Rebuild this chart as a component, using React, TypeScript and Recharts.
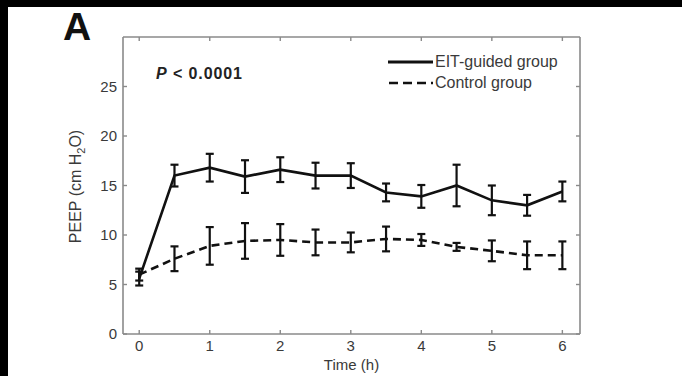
import React from 'react';
import { ComposedChart, Line, XAxis, YAxis, ErrorBar } from 'recharts';

const times = [0, 0.5, 1, 1.5, 2, 2.5, 3, 3.5, 4, 4.5, 5, 5.5, 6];
const eitMean = [5.6, 16.0, 16.8, 15.9, 16.6, 16.0, 16.0, 14.3, 13.9, 15.0, 13.5, 13.0, 14.4];
const eitErr = [0.7, 1.1, 1.4, 1.65, 1.25, 1.3, 1.25, 0.9, 1.15, 2.1, 1.5, 1.05, 1.0];
const ctrlMean = [6.0, 7.6, 8.9, 9.4, 9.5, 9.25, 9.25, 9.6, 9.5, 8.8, 8.4, 7.95, 7.95];
const ctrlErr = [0.6, 1.25, 1.9, 1.8, 1.6, 1.3, 1.0, 1.25, 0.6, 0.4, 1.05, 1.4, 1.4];
const xTicks = [0, 1, 2, 3, 4, 5, 6];
const yTicks = [0, 5, 10, 15, 20, 25];
const seriesNames = ['EIT-guided group', 'Control group'];

const eitData = times.map((t, i) => ({ t, v: eitMean[i], e: eitErr[i] }));
const ctrlData = times.map((t, i) => ({ t, v: ctrlMean[i], e: ctrlErr[i] }));

const FONT = "'Liberation Sans', Arial, sans-serif";
const AXIS = '#8a8a8a';
const TXT = '#3a3a3a';

const YLabel = (props: any) => {
  const vb = props.viewBox || { x: 0, y: 0, width: 0, height: 0 };
  const cx = vb.x - 2;
  const cy = vb.y + vb.height / 2 + 1;
  return (
    <text
      x={cx}
      y={cy}
      transform={`rotate(-90, ${cx}, ${cy})`}
      textAnchor="middle"
      fontFamily={FONT}
      fontSize={16}
      fill={TXT}
    >
      PEEP (cm H<tspan dy={4} fontSize={11}>2</tspan>
      <tspan dy={-4}>O)</tspan>
    </text>
  );
};

const empty = () => '';

export default function App() {
  return (
    <div style={{ position: 'absolute', left: 0, top: 0, width: 682, height: 376, background: '#000' }}>
      <div style={{ position: 'absolute', left: 8, top: 7, width: 674, height: 369, background: '#fff' }} />
      <div style={{ position: 'absolute', left: 0, top: 0 }}>
        <ComposedChart width={682} height={376} margin={{ top: 32, right: 92, bottom: 12, left: 83 }}>
          <XAxis
            xAxisId="b"
            dataKey="t"
            type="number"
            domain={[-0.23, 6.25]}
            ticks={xTicks}
            allowDataOverflow
            height={30}
            tickSize={-4}
            tickMargin={10}
            stroke={AXIS}
            axisLine={{ stroke: AXIS, strokeWidth: 1.6 }}
            tickLine={{ stroke: AXIS, strokeWidth: 1.4 }}
            tick={{ fontSize: 15, fontFamily: FONT, fill: TXT }}
            label={{ value: 'Time (h)', position: 'insideBottom', offset: -6, fontSize: 15, fontFamily: FONT, fill: TXT }}
          />
          <XAxis
            xAxisId="top"
            dataKey="t"
            type="number"
            orientation="top"
            domain={[-0.23, 6.25]}
            ticks={xTicks}
            allowDataOverflow
            height={5}
            tickSize={-4}
            tickFormatter={empty}
            stroke={AXIS}
            axisLine={{ stroke: AXIS, strokeWidth: 1.6 }}
            tickLine={{ stroke: AXIS, strokeWidth: 1.4 }}
          />
          <YAxis
            yAxisId="l"
            type="number"
            domain={[0, 30]}
            ticks={yTicks}
            allowDataOverflow
            width={40}
            tickSize={-4}
            tickMargin={10}
            stroke={AXIS}
            axisLine={{ stroke: AXIS, strokeWidth: 1.6 }}
            tickLine={{ stroke: AXIS, strokeWidth: 1.4 }}
            tick={{ fontSize: 15, fontFamily: FONT, fill: TXT }}
            label={<YLabel />}
          />
          <YAxis
            yAxisId="r"
            orientation="right"
            type="number"
            domain={[0, 30]}
            ticks={yTicks}
            allowDataOverflow
            width={10}
            tickSize={-4}
            tickFormatter={empty}
            stroke={AXIS}
            axisLine={{ stroke: AXIS, strokeWidth: 1.6 }}
            tickLine={{ stroke: AXIS, strokeWidth: 1.4 }}
          />
          <Line
            xAxisId="b"
            yAxisId="l"
            data={ctrlData}
            dataKey="v"
            name={seriesNames[1]}
            type="linear"
            stroke="#111"
            strokeWidth={2.6}
            strokeDasharray="8 5"
            dot={false}
            isAnimationActive={false}
          >
            <ErrorBar dataKey="e" direction="y" width={4} stroke="#111" strokeWidth={2.2} />
          </Line>
          <Line
            xAxisId="b"
            yAxisId="l"
            data={eitData}
            dataKey="v"
            name={seriesNames[0]}
            type="linear"
            stroke="#111"
            strokeWidth={2.6}
            dot={false}
            isAnimationActive={false}
          >
            <ErrorBar dataKey="e" direction="y" width={4} stroke="#111" strokeWidth={2.2} />
          </Line>
        </ComposedChart>
      </div>
      <svg width={682} height={376} style={{ position: 'absolute', left: 0, top: 0, pointerEvents: 'none' }}>
        <text x={63} y={40} fontFamily={FONT} fontWeight="bold" fontSize={39} fill="#111">A</text>
        <text x={156} y={79} fontFamily={FONT} fontWeight="bold" fontSize={16} fill="#222" letterSpacing={0.9}>
          <tspan fontStyle="italic">P</tspan> &lt; 0.0001
        </text>
        <line x1={388} x2={433} y1={62} y2={62} stroke="#111" strokeWidth={3} />
        <text x={435} y={67} fontFamily={FONT} fontSize={16} fill={TXT}>{seriesNames[0]}</text>
        <line x1={389} x2={433} y1={83} y2={83} stroke="#111" strokeWidth={2.4} strokeDasharray="9 5" />
        <text x={435} y={88} fontFamily={FONT} fontSize={16} fill={TXT}>{seriesNames[1]}</text>
      </svg>
    </div>
  );
}
